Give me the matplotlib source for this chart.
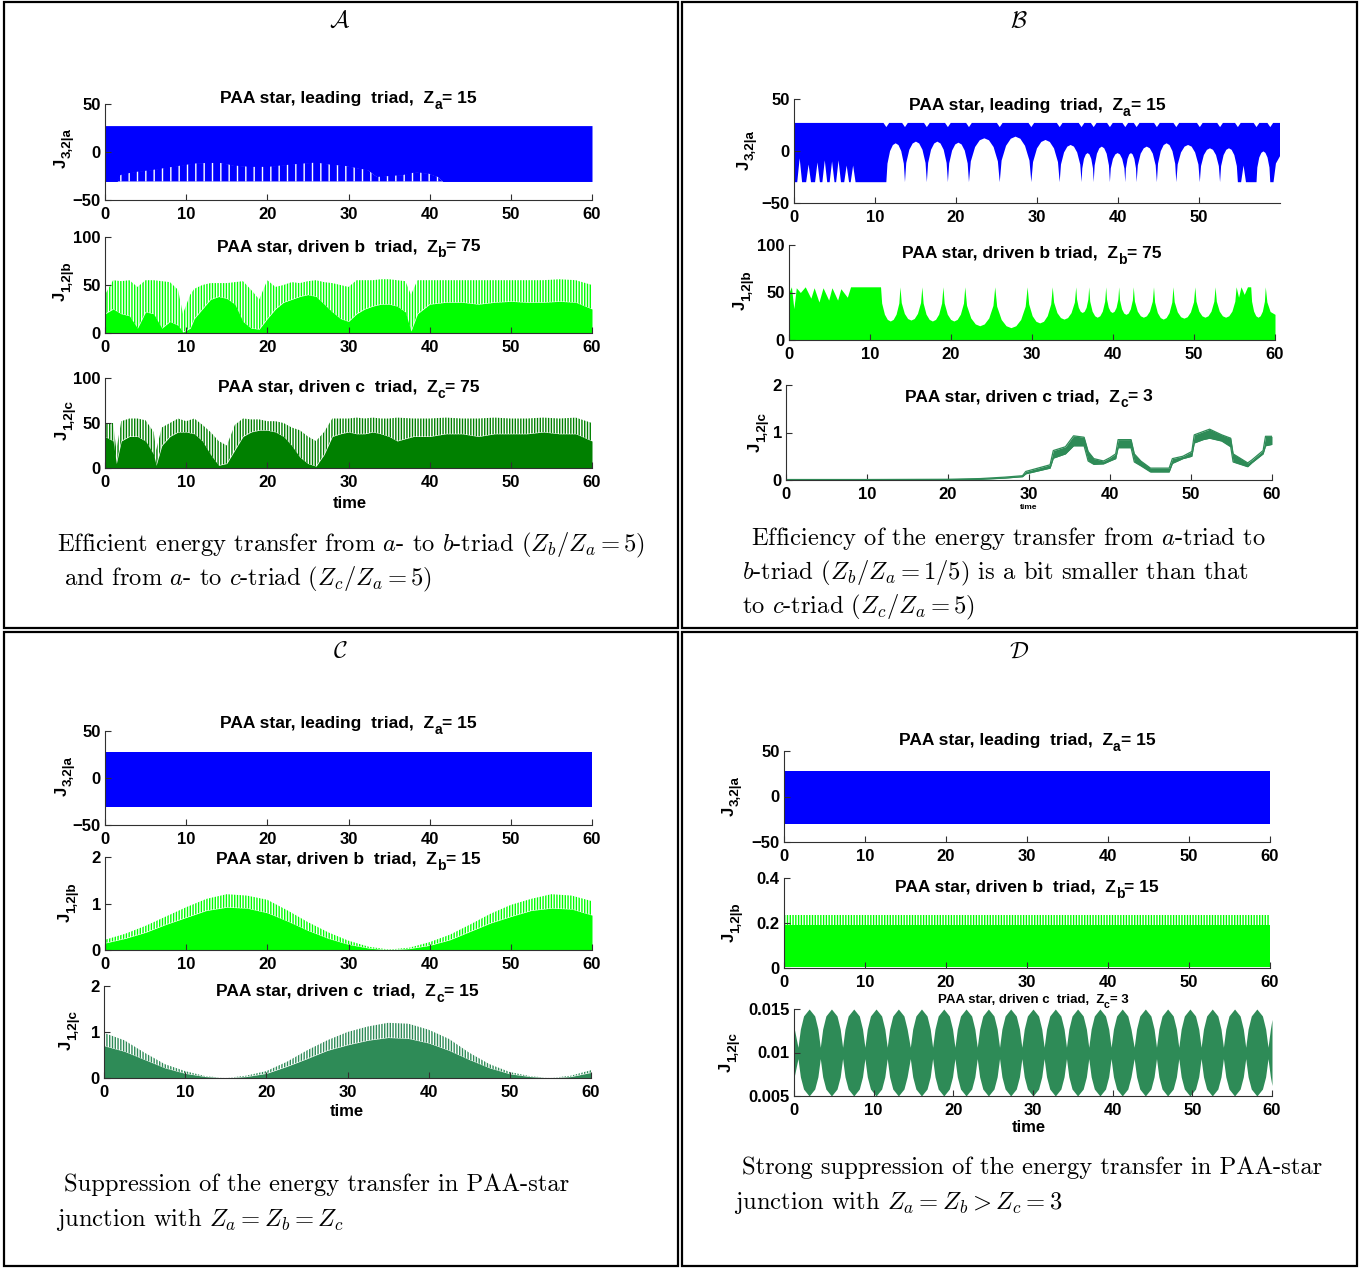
import matplotlib
matplotlib.use('Agg')
import matplotlib.pyplot as plt
from matplotlib.patches import Rectangle
from matplotlib.transforms import IdentityTransform

W, H = 1372, 1268

plt.rcParams['font.family'] = ['Liberation Sans', 'DejaVu Sans']
plt.rcParams['font.weight'] = 'bold'
plt.rcParams['hatch.linewidth'] = 1.0

BLUE = '#0000ff'
LIME = '#00ff00'
DKGREEN = '#008000'
SEAGREEN = '#2e8b57'

# ---------------- data ----------------
# panel A, leading triad: band with white teeth at the bottom
a1_top = 27.5
a1_bottom = -30.7
a1_t = [0, 1.5, 1.9, 3.5, 5.6, 8.3, 11, 12.6, 14.2, 15.8, 17.9, 20.1, 21.7, 24.4, 26,
        27.6, 29.7, 32.4, 33.5, 36.7, 38.3, 39.9, 41, 41.6, 60]
a1_teeth = [-30.7, -30.7, -24, -21, -19, -15.5, -12, -11.4, -11.4, -14, -15.5, -15.5, -14,
            -12, -11, -13, -14.6, -19, -26, -24, -21, -22.6, -26, -30.7, -30.7]

# panel A, driven b triad (dense spikes: solid body + spike tops)
a2_t = [0, 1, 2, 3, 4, 5, 6, 7, 8, 9, 9.6, 10.5, 11, 12, 13, 14, 15, 16, 17, 18, 19, 20,
        21, 22, 23, 24, 25, 26, 27, 28, 29, 30, 31, 32, 33, 34, 35, 36, 37, 37.7, 38.5,
        40, 42, 44, 46, 48, 50, 52, 54, 56, 58, 60]
a2_peak = [40, 55, 54, 55, 48, 55, 55, 54, 53, 45, 20, 40, 46, 50, 52, 52, 52, 53, 54, 45,
           35, 55, 48, 50, 53, 52, 54, 55, 53, 52, 50, 48, 55, 55, 55, 56, 56, 55, 54, 40,
           55, 55, 55, 55, 55, 55, 55, 55, 55, 56, 55, 50]
a2_body = [20, 25, 20, 18, 5, 22, 20, 5, 12, 8, 1, 5, 15, 25, 35, 38, 36, 30, 12, 5, 4, 15,
           25, 32, 35, 38, 40, 38, 30, 22, 15, 12, 20, 25, 28, 30, 30, 28, 22, 2, 20,
           30, 32, 32, 30, 32, 33, 32, 32, 33, 32, 25]

# panel A, driven c triad
a3_t = [0, 1, 1.4, 2, 3, 4, 5, 6, 6.3, 7, 8, 9, 10, 11, 12, 13, 14, 15, 16, 17, 18, 19, 20,
        21, 22, 23, 24, 25, 26, 27, 28, 29, 30, 31, 32, 33, 34, 35, 36, 38, 40, 42, 44,
        46, 48, 50, 52, 54, 56, 58, 60]
a3_peak = [50, 50, 20, 52, 55, 55, 53, 40, 20, 45, 50, 55, 52, 55, 48, 40, 30, 25, 48, 55,
           54, 54, 52, 52, 50, 45, 42, 35, 30, 40, 55, 55, 55, 56, 55, 56, 55, 55, 56, 55,
           55, 56, 55, 55, 56, 55, 55, 56, 55, 56, 50]
a3_body = [35, 30, 5, 30, 35, 35, 30, 15, 3, 25, 35, 40, 40, 38, 30, 15, 3, 5, 20, 35, 40,
           42, 42, 40, 35, 25, 12, 5, 2, 15, 35, 38, 40, 38, 38, 40, 38, 35, 30, 35, 35,
           38, 38, 35, 38, 38, 38, 40, 38, 38, 30]

# panel B, leading triad: lower edge with white arches, upper edge with small notches
b1_t = [0, 0.4, 0.7, 1.0, 1.5, 1.8, 2.1, 2.6, 2.9, 3.2, 3.5, 3.8, 4.1, 4.4, 4.7, 5.0, 5.2,
        5.5, 5.8, 6.2, 6.5, 6.8, 7.0, 7.3, 7.6, 11.4,
        11.54, 11.86, 12.21, 12.55, 12.9, 13.24, 13.56, 13.7,
        13.86, 14.24, 14.65, 15.05, 15.46, 15.86, 16.24, 16.4,
        16.56, 16.92, 17.31, 17.7, 18.09, 18.48, 18.84, 19.0,
        19.16, 19.52, 19.91, 20.3, 20.69, 21.08, 21.44, 21.6,
        21.83, 22.36, 22.93, 23.5, 24.07, 24.64, 25.17, 25.4,
        25.63, 26.18, 26.77, 27.35, 27.94, 28.52, 29.07, 29.3,
        29.51, 30.0, 30.53, 31.05, 31.58, 32.1, 32.59, 32.8,
        32.96, 33.34, 33.75, 34.15, 34.56, 34.96, 35.34, 35.5,
        35.59, 35.8, 36.03, 36.25, 36.48, 36.7, 36.91, 37.0,
        37.12, 37.4, 37.7, 38.0, 38.3, 38.6, 38.88, 39.0,
        39.11, 39.38, 39.67, 39.95, 40.24, 40.52, 40.79, 40.9,
        40.98, 41.18, 41.39, 41.6, 41.81, 42.02, 42.22, 42.3,
        42.45, 42.8, 43.18, 43.55, 43.93, 44.3, 44.65, 44.8,
        44.94, 45.28, 45.64, 46.0, 46.36, 46.72, 47.06, 47.2,
        47.37, 47.78, 48.22, 48.65, 49.09, 49.52, 49.93, 50.1,
        50.25, 50.6, 50.98, 51.35, 51.73, 52.1, 52.45, 52.6,
        52.73, 53.04, 53.37, 53.7, 54.03, 54.36, 54.67, 54.8,
        55.2, 55.5, 55.8, 57.1,
        57.2, 57.44, 57.7, 57.95, 58.2, 58.46, 58.7, 58.8,
        59.2, 59.5, 60]
b1_low = [-30, -30, -7, -30, -30, -13, -30, -30, -11, -30, -30, -9, -30, -30, -10, -30, -30,
          -9, -30, -30, -14, -30, -30, -14, -30, -30,
          -12.2, -0.1, 5.7, 7.4, 5.7, -0.1, -12.2, -30,
          -11.5, 1.2, 7.2, 9, 7.2, 1.2, -11.5, -30,
          -11.5, 1.2, 7.2, 9, 7.2, 1.2, -11.5, -30,
          -11.9, 0.4, 6.3, 8, 6.3, 0.4, -11.9, -30,
          -10.0, 3.8, 10.3, 12.2, 10.3, 3.8, -10.0, -30,
          -9.2, 5.0, 11.8, 13.8, 11.8, 5.0, -9.2, -30,
          -10.7, 2.5, 8.7, 10.6, 8.7, 2.5, -10.7, -30,
          -13.0, -1.4, 4.2, 5.8, 4.2, -1.4, -13.0, -30,
          -16.7, -7.6, -3.3, -2, -3.3, -7.6, -16.7, -30,
          -13.8, -2.6, 2.6, 4.2, 2.6, -2.6, -13.8, -30,
          -16.7, -7.6, -3.3, -2, -3.3, -7.6, -16.7, -30,
          -16.7, -7.6, -3.3, -2, -3.3, -7.6, -16.7, -30,
          -13.8, -2.6, 2.6, 4.2, 2.6, -2.6, -13.8, -30,
          -12.2, -0.1, 5.7, 7.4, 5.7, -0.1, -12.2, -30,
          -13.0, -1.4, 4.2, 5.8, 4.2, -1.4, -13.0, -30,
          -14.5, -3.9, 1.1, 2.6, 1.1, -3.9, -14.5, -30,
          -14.5, -3.9, 1.1, 2.6, 1.1, -3.9, -14.5, -30,
          -30, -14, -30, -30,
          -15.9, -6.3, -1.8, -0.4, -1.8, -6.3, -15.9, -30,
          -30, -12, -5]
b1_top_t = [0,
            11.05, 11.4, 11.75, 13.35, 13.7, 14.05, 16.05, 16.4, 16.75,
            18.65, 19.0, 19.35, 21.25, 21.6, 21.95, 25.05, 25.4, 25.75,
            28.95, 29.3, 29.65, 32.45, 32.8, 33.15, 35.15, 35.5, 35.85,
            36.65, 37.0, 37.35, 38.65, 39.0, 39.35, 40.55, 40.9, 41.25,
            41.95, 42.3, 42.65, 44.45, 44.8, 45.15, 46.85, 47.2, 47.55,
            49.75, 50.1, 50.45, 52.25, 52.6, 52.95, 54.45, 54.8, 55.15,
            56.75, 57.1, 57.45, 58.45, 58.8, 59.15,
            60]
b1_top = [27,
          27, 23, 27, 27, 23, 27, 27, 23, 27,
          27, 23, 27, 27, 23, 27, 27, 23, 27,
          27, 23, 27, 27, 23, 27, 27, 23, 27,
          27, 23, 27, 27, 23, 27, 27, 23, 27,
          27, 23, 27, 27, 23, 27, 27, 23, 27,
          27, 23, 27, 27, 23, 27, 27, 23, 27,
          27, 23, 27, 27, 23, 27,
          27]

# panel B, driven b triad: cusps at 56 with valleys between
b2_t = [0, 0.3, 0.6, 0.9, 1.4, 2.0, 2.7, 3.1, 3.7, 4.2, 4.9, 5.3, 6.0, 6.4, 7.2, 7.6, 11.3,
        11.44, 11.78, 12.14, 12.5, 12.86, 13.22, 13.56, 13.7,
        13.86, 14.24, 14.65, 15.05, 15.46, 15.86, 16.24, 16.4,
        16.56, 16.92, 17.31, 17.7, 18.09, 18.48, 18.84, 19.0,
        19.16, 19.54, 19.95, 20.35, 20.76, 21.16, 21.54, 21.7,
        21.92, 22.44, 23.0, 23.55, 24.1, 24.66, 25.18, 25.4,
        25.64, 26.2, 26.8, 27.4, 28.0, 28.6, 29.16, 29.4,
        29.59, 30.02, 30.49, 30.95, 31.42, 31.88, 32.31, 32.5,
        32.67, 33.08, 33.52, 33.95, 34.39, 34.82, 35.23, 35.4,
        35.5, 35.72, 35.96, 36.2, 36.44, 36.68, 36.9, 37.0,
        37.13, 37.42, 37.74, 38.05, 38.37, 38.68, 38.97, 39.1,
        39.2, 39.42, 39.66, 39.9, 40.14, 40.38, 40.6, 40.7,
        40.81, 41.06, 41.33, 41.6, 41.87, 42.14, 42.39, 42.5,
        42.65, 43.0, 43.38, 43.75, 44.13, 44.5, 44.85, 45.0,
        45.14, 45.48, 45.84, 46.2, 46.56, 46.92, 47.26, 47.4,
        47.56, 47.94, 48.35, 48.75, 49.16, 49.56, 49.94, 50.1,
        50.25, 50.6, 50.98, 51.35, 51.73, 52.1, 52.45, 52.6,
        52.76, 53.12, 53.51, 53.9, 54.29, 54.68, 55.04, 55.2,
        55.5, 55.8, 56.2, 56.6, 57.0,
        57.11, 57.36, 57.63, 57.9, 58.17, 58.44, 58.69, 58.8,
        59.0, 59.4, 60]
b2_top = [50, 56, 33, 55, 50, 56, 44, 55, 40, 55, 42, 55, 42, 54, 45, 56, 56,
          38.9, 27.2, 21.7, 20, 21.7, 27.2, 38.9, 56,
          39.4, 28, 22.6, 21, 22.6, 28, 39.4, 56,
          38.9, 27.2, 21.7, 20, 21.7, 27.2, 38.9, 56,
          38.9, 27.2, 21.7, 20, 21.7, 27.2, 38.9, 56,
          36.5, 23.2, 16.9, 15, 16.9, 23.2, 36.5, 56,
          35.6, 21.6, 15.0, 13, 15.0, 21.6, 35.6, 56,
          38, 25.6, 19.7, 18, 19.7, 25.6, 38, 56,
          39.9, 28.8, 23.6, 22, 23.6, 28.8, 39.9, 56,
          43.2, 34.4, 30.2, 29, 30.2, 34.4, 43.2, 56,
          40.8, 30.4, 25.5, 24, 25.5, 30.4, 40.8, 56,
          43.2, 34.4, 30.2, 29, 30.2, 34.4, 43.2, 56,
          42.2, 32.8, 28.3, 27, 28.3, 32.8, 42.2, 56,
          40.8, 30.4, 25.5, 24, 25.5, 30.4, 40.8, 56,
          39.9, 28.8, 23.6, 22, 23.6, 28.8, 39.9, 56,
          40.3, 29.6, 24.5, 23, 24.5, 29.6, 40.3, 56,
          40.8, 30.4, 25.5, 24, 25.5, 30.4, 40.8, 56,
          40.8, 30.4, 25.5, 24, 25.5, 30.4, 40.8, 56,
          45, 56, 48, 56, 56,
          40.8, 30.4, 25.5, 24, 25.5, 30.4, 40.8, 56,
          40, 30, 27]

# panel B, driven c triad (thin band)
b3_t = [0, 10, 20, 24, 27, 29.2, 29.6, 32.6, 33.0, 34.5, 35.5, 36.8, 37.3, 38.0, 39.2, 40.0,
        40.7, 41.0, 42.6, 43.0, 43.8, 45.0, 47.3, 47.7, 49.0, 50.1, 50.4, 51.5, 52.3, 53.8,
        54.9, 55.2, 57.0, 57.5, 58.9, 59.2, 60]
b3_lo = [0, 0, 0.005, 0.015, 0.04, 0.07, 0.13, 0.25, 0.46, 0.55, 0.72, 0.72, 0.4, 0.33, 0.34,
         0.4, 0.45, 0.68, 0.68, 0.38, 0.3, 0.17, 0.17, 0.35, 0.45, 0.5, 0.78, 0.85, 0.88,
         0.82, 0.7, 0.38, 0.28, 0.36, 0.55, 0.72, 0.75]
b3_hi = [0.01, 0.01, 0.015, 0.03, 0.06, 0.09, 0.18, 0.32, 0.62, 0.7, 0.93, 0.9, 0.6, 0.45, 0.4,
         0.47, 0.55, 0.85, 0.85, 0.55, 0.4, 0.25, 0.25, 0.45, 0.5, 0.6, 0.95, 1.02, 1.07,
         0.95, 0.88, 0.55, 0.36, 0.42, 0.62, 0.92, 0.92]

# panel C
c1_top = 27.5
c1_bottom = -30.7
c_t = [0, 2.5, 5, 7.5, 10, 12.5, 15, 17.5, 20, 22.5, 25, 27.5, 30, 32.5, 35, 37.5, 40, 42.5,
       45, 47.5, 50, 52.5, 55, 57.5, 60]
c2_peak = [0.22, 0.35, 0.52, 0.72, 0.92, 1.1, 1.2, 1.17, 1.08, 0.85, 0.6, 0.38, 0.2, 0.07,
           0.01, 0.05, 0.17, 0.33, 0.55, 0.78, 0.97, 1.1, 1.2, 1.17, 1.05]
c2_body = [0.15, 0.25, 0.38, 0.55, 0.7, 0.85, 0.92, 0.9, 0.8, 0.62, 0.42, 0.25, 0.12, 0.04,
           0.0, 0.03, 0.1, 0.22, 0.4, 0.58, 0.72, 0.85, 0.9, 0.88, 0.75]
c3_peak = [0.98, 0.82, 0.55, 0.3, 0.15, 0.04, 0.0, 0.05, 0.15, 0.35, 0.6, 0.82, 1.0, 1.12,
           1.2, 1.18, 1.05, 0.85, 0.55, 0.3, 0.13, 0.04, 0.0, 0.05, 0.17]
c3_body = [0.7, 0.58, 0.4, 0.22, 0.1, 0.03, 0.0, 0.03, 0.1, 0.25, 0.42, 0.6, 0.72, 0.82,
           0.88, 0.86, 0.76, 0.6, 0.4, 0.22, 0.09, 0.03, 0.0, 0.03, 0.12]

# panel D
d1_top = 27.9
d1_bottom = -30.5
d2_t = [0, 60]
d2_low = [0.004, 0.004]
d2_body = [0.19, 0.19]
d2_peak = [0.235, 0.235]
# beating envelope of the c-triad current: necks, shoulders and lobe tops
d3_t = [0,
        0.5, 0.8, 1.2, 1.9, 2.6, 3.0,
        3.3, 3.6, 4.0, 4.7, 5.4, 5.8,
        6.1, 6.4, 6.8, 7.5, 8.2, 8.6,
        8.9, 9.2, 9.6, 10.3, 11.0, 11.4,
        11.7, 12.0, 12.4, 13.1, 13.8, 14.2,
        14.6, 14.9, 15.3, 16.0, 16.7, 17.1,
        17.4, 17.7, 18.1, 18.8, 19.5, 19.9,
        20.2, 20.5, 20.9, 21.6, 22.3, 22.7,
        23.0, 23.3, 23.7, 24.4, 25.1, 25.5,
        25.8, 26.1, 26.5, 27.2, 27.9, 28.3,
        28.6, 28.9, 29.3, 30.0, 30.7, 31.1,
        31.4, 31.7, 32.1, 32.8, 33.5, 33.9,
        34.2, 34.5, 34.9, 35.6, 36.3, 36.7,
        37.0, 37.3, 37.7, 38.4, 39.1, 39.5,
        39.8, 40.1, 40.5, 41.2, 41.9, 42.3,
        42.7, 43.0, 43.4, 44.1, 44.8, 45.2,
        45.5, 45.8, 46.2, 46.9, 47.6, 48.0,
        48.3, 48.6, 49.0, 49.7, 50.4, 50.8,
        51.1, 51.4, 51.8, 52.5, 53.2, 53.6,
        53.9, 54.2, 54.6, 55.3, 56.0, 56.4,
        56.7, 57.0, 57.4, 58.1, 58.8, 59.2,
        59.5, 59.8, 60]
d3_hi = [0.0129,
         0.0106, 0.0127, 0.0142, 0.0150, 0.0142, 0.0127,
         0.0106, 0.0127, 0.0142, 0.0150, 0.0142, 0.0127,
         0.0106, 0.0127, 0.0142, 0.0150, 0.0142, 0.0127,
         0.0106, 0.0127, 0.0142, 0.0150, 0.0142, 0.0127,
         0.0106, 0.0127, 0.0142, 0.0150, 0.0142, 0.0127,
         0.0106, 0.0127, 0.0142, 0.0150, 0.0142, 0.0127,
         0.0106, 0.0127, 0.0142, 0.0150, 0.0142, 0.0127,
         0.0106, 0.0127, 0.0142, 0.0150, 0.0142, 0.0127,
         0.0106, 0.0127, 0.0142, 0.0150, 0.0142, 0.0127,
         0.0106, 0.0127, 0.0142, 0.0150, 0.0142, 0.0127,
         0.0106, 0.0127, 0.0142, 0.0150, 0.0142, 0.0127,
         0.0106, 0.0127, 0.0142, 0.0150, 0.0142, 0.0127,
         0.0106, 0.0127, 0.0142, 0.0150, 0.0142, 0.0127,
         0.0106, 0.0127, 0.0142, 0.0150, 0.0142, 0.0127,
         0.0106, 0.0127, 0.0142, 0.0150, 0.0142, 0.0127,
         0.0106, 0.0127, 0.0142, 0.0150, 0.0142, 0.0127,
         0.0106, 0.0127, 0.0142, 0.0150, 0.0142, 0.0127,
         0.0106, 0.0127, 0.0142, 0.0150, 0.0142, 0.0127,
         0.0106, 0.0127, 0.0142, 0.0150, 0.0142, 0.0127,
         0.0106, 0.0127, 0.0142, 0.0150, 0.0142, 0.0127,
         0.0106, 0.0127, 0.0142, 0.0150, 0.0142, 0.0127,
         0.0106, 0.0127, 0.0138]
d3_lo = [0.0071,
         0.0093, 0.0072, 0.0058, 0.0050, 0.0058, 0.0072,
         0.0093, 0.0072, 0.0058, 0.0050, 0.0058, 0.0072,
         0.0093, 0.0072, 0.0058, 0.0050, 0.0058, 0.0072,
         0.0093, 0.0072, 0.0058, 0.0050, 0.0058, 0.0072,
         0.0093, 0.0072, 0.0058, 0.0050, 0.0058, 0.0072,
         0.0093, 0.0072, 0.0058, 0.0050, 0.0058, 0.0072,
         0.0093, 0.0072, 0.0058, 0.0050, 0.0058, 0.0072,
         0.0093, 0.0072, 0.0058, 0.0050, 0.0058, 0.0072,
         0.0093, 0.0072, 0.0058, 0.0050, 0.0058, 0.0072,
         0.0093, 0.0072, 0.0058, 0.0050, 0.0058, 0.0072,
         0.0093, 0.0072, 0.0058, 0.0050, 0.0058, 0.0072,
         0.0093, 0.0072, 0.0058, 0.0050, 0.0058, 0.0072,
         0.0093, 0.0072, 0.0058, 0.0050, 0.0058, 0.0072,
         0.0093, 0.0072, 0.0058, 0.0050, 0.0058, 0.0072,
         0.0093, 0.0072, 0.0058, 0.0050, 0.0058, 0.0072,
         0.0093, 0.0072, 0.0058, 0.0050, 0.0058, 0.0072,
         0.0093, 0.0072, 0.0058, 0.0050, 0.0058, 0.0072,
         0.0093, 0.0072, 0.0058, 0.0050, 0.0058, 0.0072,
         0.0093, 0.0072, 0.0058, 0.0050, 0.0058, 0.0072,
         0.0093, 0.0072, 0.0058, 0.0050, 0.0058, 0.0072,
         0.0093, 0.0072, 0.0058, 0.0050, 0.0058, 0.0072,
         0.0093, 0.0072, 0.0062]

time_ticks = [0, 10, 20, 30, 40, 50, 60]

# ---------------- helpers ----------------
fig = plt.figure(figsize=(W / 100, H / 100), dpi=100)
renderer = fig.canvas.get_renderer()
PIX = IdentityTransform()


def fx(x):
    return x / W


def fy(y):
    return 1 - y / H


def make_axes(box, ylim, yticks, ylabels, xticks=time_ticks):
    x0, y0, x1, y1 = box
    ax = fig.add_axes([fx(x0), fy(y1), (x1 - x0) / W, (y1 - y0) / H])
    ax.set_xlim(0, 60)
    ax.set_ylim(ylim)
    for s in ('top', 'right'):
        ax.spines[s].set_visible(False)
    for s in ('left', 'bottom'):
        ax.spines[s].set_linewidth(0.8)
        ax.spines[s].set_color('#303030')
    ax.set_xticks(xticks)
    ax.set_xticklabels([str(v) for v in xticks])
    ax.set_yticks(yticks)
    ax.set_yticklabels(ylabels)
    ax.tick_params(direction='in', length=4, width=0.8, labelsize=12, color='#303030')
    ax.tick_params(axis='x', pad=5)
    ax.tick_params(axis='y', pad=3)
    return ax


def title(box, main, sub, rest, y_base, size=12.5):
    # MATLAB style "Z_a= 15": subscript lowered, placed by hand and centred on the axes
    xc = (box[0] + box[2]) / 2
    parts = [(main, size, 0), (sub, size * 0.8, size * 0.5), (rest, size, 0)]
    texts, widths = [], []
    for s, fs, drop in parts:
        t = fig.text(0, H - y_base - drop, s, transform=PIX, fontsize=fs,
                     ha='left', va='baseline')
        texts.append(t)
        widths.append(t.get_window_extent(renderer).width)
    x = xc - sum(widths) / 2
    for t, w in zip(texts, widths):
        t.set_x(x)
        x += w


def ylab(cx, cy, sub, size=12):
    tj = fig.text(0, 0, 'J', transform=PIX, fontsize=size, rotation=90,
                  rotation_mode='anchor', ha='left', va='baseline')
    ts = fig.text(0, 0, sub, transform=PIX, fontsize=size * 0.8, rotation=90,
                  rotation_mode='anchor', ha='left', va='baseline')
    hj = tj.get_window_extent(renderer).height
    hs = ts.get_window_extent(renderer).height
    y0 = (H - cy) - (hj + hs) / 2
    xb = cx + 5
    tj.set_position((xb, y0))
    ts.set_position((xb + 5, y0 + hj))


def caption(x, y, text):
    fig.text(fx(x), fy(y), text, ha='left', va='baseline', fontsize=17.7, family='cmr10',
             weight='normal', math_fontfamily='cm')


def spiky(ax, t, body, peak, color, low=0, hatch='||||||'):
    ax.fill_between(t, low, body, color=color, lw=0)
    with plt.rc_context({'hatch.color': color}):
        ax.fill_between(t, body, peak, facecolor='none', edgecolor=color, hatch=hatch, lw=0)


ylim50 = (-50, 50)
t50 = [-50, 0, 50]
l50 = ['\u221250', '0', '50']

# ---------------- panel A ----------------
bA1 = (105, 104, 592, 200)
bA2 = (105, 237, 592, 333)
bA3 = (105, 378, 592, 468)
ax = make_axes(bA1, ylim50, t50, l50)
ax.fill_between(a1_t, a1_teeth, a1_top, color=BLUE, lw=0)
with plt.rc_context({'hatch.color': 'white'}):
    ax.fill_between(a1_t, a1_bottom, a1_teeth, facecolor=BLUE, edgecolor='white',
                    hatch='||', lw=0)
ax = make_axes(bA2, (0, 100), [0, 50, 100], ['0', '50', '100'])
spiky(ax, a2_t, a2_body, a2_peak, LIME)
ax = make_axes(bA3, (0, 100), [0, 50, 100], ['0', '50', '100'])
spiky(ax, a3_t, a3_body, a3_peak, DKGREEN)
title(bA1, 'PAA star, leading  triad,  Z', 'a', '= 15', 103)
title(bA2, 'PAA star, driven b  triad,  Z', 'b', '= 75', 251)
title(bA3, 'PAA star, driven c  triad,  Z', 'c', '= 75', 392)
ylab(61, 148, '3,2|a')
ylab(60, 281, '1,2|b')
ylab(62, 420, '1,2|c')
fig.text(fx(350), fy(503), 'time', ha='center', va='center', fontsize=12)

# ---------------- panel B ----------------
bB1 = (794, 99, 1280, 203)
bB2 = (789, 245, 1275, 340)
bB3 = (786, 385, 1272, 480)
ax = make_axes(bB1, ylim50, t50, l50, xticks=[0, 10, 20, 30, 40, 50])
ax.fill(b1_t + b1_top_t[::-1], b1_low + b1_top[::-1], color=BLUE, lw=0)
ax = make_axes(bB2, (0, 100), [0, 50, 100], ['0', '50', '100'])
ax.fill_between(b2_t, 0, b2_top, color=LIME, lw=0)
ax = make_axes(bB3, (0, 2), [0, 1, 2], ['0', '1', '2'])
ax.fill_between(b3_t, b3_lo, b3_hi, color=SEAGREEN, lw=0)
ax.plot(b3_t, b3_lo, color=SEAGREEN, lw=0.9)
ax.plot(b3_t, b3_hi, color=SEAGREEN, lw=0.9)
title(bB1, 'PAA star, leading  triad,  Z', 'a', '= 15', 110)
title(bB2, 'PAA star, driven b triad,  Z', 'b', '= 75', 258)
title(bB3, 'PAA star, driven c triad,  Z', 'c', '= 3', 401)
ylab(744, 150, '3,2|a')
ylab(740, 290, '1,2|b')
ylab(755, 432, '1,2|c')
fig.text(fx(1029), fy(508), 'time', ha='center', va='center', fontsize=6)

# ---------------- panel C ----------------
bC1 = (105, 731, 592, 825)
bC2 = (105, 857, 592, 950)
bC3 = (104, 986, 591, 1078)
ax = make_axes(bC1, ylim50, t50, l50)
ax.fill_between([0, 60], c1_bottom, c1_top, color=BLUE, lw=0)
ax = make_axes(bC2, (0, 2), [0, 1, 2], ['0', '1', '2'])
spiky(ax, c_t, c2_body, c2_peak, LIME)
ax = make_axes(bC3, (0, 2), [0, 1, 2], ['0', '1', '2'])
spiky(ax, c_t, c3_body, c3_peak, SEAGREEN)
title(bC1, 'PAA star, leading  triad,  Z', 'a', '= 15', 728)
title(bC2, 'PAA star, driven b  triad,  Z', 'b', '= 15', 864)
title(bC3, 'PAA star, driven c  triad,  Z', 'c', '= 15', 996)
ylab(62, 776, '3,2|a')
ylab(65, 902, '1,2|b')
ylab(66, 1030, '1,2|c')
fig.text(fx(347), fy(1111), 'time', ha='center', va='center', fontsize=12)

# ---------------- panel D ----------------
bD1 = (784, 751, 1270, 842)
bD2 = (784, 878, 1270, 968)
bD3 = (794, 1009, 1272, 1096)
ax = make_axes(bD1, ylim50, t50, l50)
ax.fill_between([0, 60], d1_bottom, d1_top, color=BLUE, lw=0)
ax = make_axes(bD2, (0, 0.4), [0, 0.2, 0.4], ['0', '0.2', '0.4'])
spiky(ax, d2_t, d2_body, d2_peak, LIME, low=d2_low)
ax = make_axes(bD3, (0.005, 0.015), [0.005, 0.01, 0.015], ['0.005', '0.01', '0.015'])
ax.fill_between(d3_t, d3_lo, d3_hi, color=SEAGREEN, lw=0)
title(bD1, 'PAA star, leading  triad,  Z', 'a', '= 15', 745)
title(bD2, 'PAA star, driven b  triad,  Z', 'b', '= 15', 892)
title(bD3, 'PAA star, driven c  triad,  Z', 'c', '= 3', 1003, size=9.5)
ylab(729, 796, '3,2|a')
ylab(729, 922, '1,2|b')
ylab(726, 1052, '1,2|c')
fig.text(fx(1029), fy(1127), 'time', ha='center', va='center', fontsize=12)

# ---------------- panel letters and captions ----------------
for lx, ly, letter in [(340, 20, 'A'), (1019, 20, 'B'), (340, 651, 'C'), (1019, 651, 'D')]:
    fig.text(fx(lx), fy(ly), r'$\mathcal{%s}$' % letter, ha='center', va='center',
             fontsize=17, math_fontfamily='cm')

caption(57, 551, r'Efficient energy transfer from $a$- to $b$-triad $(Z_b/Z_a = 5)$')
caption(64, 585, r'and from $a$- to $c$-triad $(Z_c/Z_a = 5)$')
caption(751, 545, r'Efficiency of the energy transfer from $a$-triad to')
caption(742, 579, r'$b$-triad $(Z_b/Z_a = 1/5)$ is a bit smaller than that')
caption(742, 613, r'to $c$-triad $(Z_c/Z_a = 5)$')
caption(64, 1191, r'Suppression of the energy transfer in PAA-star')
caption(56, 1226, r'junction with $Z_a = Z_b = Z_c$')
caption(742, 1174, r'Strong suppression of the energy transfer in PAA-star')
caption(734, 1209, r'junction with $Z_a = Z_b > Z_c = 3$')

# ---------------- table borders ----------------
for x0, y0, x1, y1 in [(4, 1.5, 678, 628), (682, 1.5, 1357, 628),
                       (4, 632, 678, 1265.5), (682, 632, 1357, 1265.5)]:
    fig.add_artist(Rectangle((fx(x0), fy(y1)), (x1 - x0) / W, (y1 - y0) / H,
                             transform=fig.transFigure, fill=False, lw=1.6, ec='black'))

fig.savefig('out.png', dpi=100)
